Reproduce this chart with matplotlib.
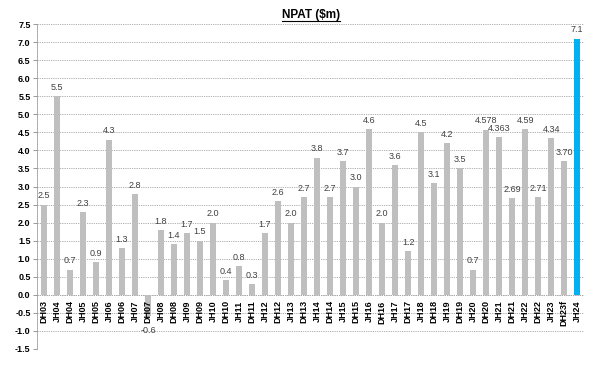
import numpy as np
import matplotlib
matplotlib.use('Agg')
import matplotlib.pyplot as plt
import matplotlib.transforms as mtrans

periods = ['DH03', 'JH04', 'DH04', 'JH05', 'DH05', 'JH06', 'DH06', 'JH07', 'DH07', 'JH08',
           'DH08', 'JH09', 'DH09', 'JH10', 'DH10', 'JH11', 'DH11', 'JH12', 'DH12', 'JH13',
           'DH13', 'JH14', 'DH14', 'JH15', 'DH15', 'JH16', 'DH16', 'JH17', 'DH17', 'JH18',
           'DH18', 'JH19', 'DH19', 'JH20', 'DH20', 'JH21', 'DH21', 'JH22', 'DH22', 'JH23',
           'DH23f', 'JH24']
npat = [2.5, 5.5, 0.7, 2.3, 0.9, 4.3, 1.3, 2.8, -0.6, 1.8,
        1.4, 1.7, 1.5, 2.0, 0.4, 0.8, 0.3, 1.7, 2.6, 2.0,
        2.7, 3.8, 2.7, 3.7, 3.0, 4.6, 2.0, 3.6, 1.2, 4.5,
        3.1, 4.2, 3.5, 0.7, 4.578, 4.363, 2.69, 4.59, 2.71, 4.34,
        3.70, 7.1]
labels = ['2.5', '5.5', '0.7', '2.3', '0.9', '4.3', '1.3', '2.8', '-0.6', '1.8',
          '1.4', '1.7', '1.5', '2.0', '0.4', '0.8', '0.3', '1.7', '2.6', '2.0',
          '2.7', '3.8', '2.7', '3.7', '3.0', '4.6', '2.0', '3.6', '1.2', '4.5',
          '3.1', '4.2', '3.5', '0.7', '4.578', '4.363', '2.69', '4.59', '2.71', '4.34',
          '3.70', '7.1']

plt.rcParams['font.family'] = ['Liberation Sans', 'DejaVu Sans']

fig = plt.figure(figsize=(5.95, 3.65), dpi=100)
ax = fig.add_axes([0.063, 0.044, 0.918, 0.890])

x = np.arange(len(periods))
colors = ['#BFBFBF'] * (len(periods) - 1) + ['#00B0F0']
ax.bar(x, npat, width=0.5, color=colors, zorder=3)

ax.set_xlim(-0.5, len(periods) - 0.5)
ax.set_ylim(-1.5, 7.5)
ax.set_yticks(np.arange(-1.5, 7.51, 0.5))
ax.set_yticklabels(['%.1f' % v for v in np.arange(-1.5, 7.51, 0.5)],
                   fontsize=6.5, fontweight='bold')
ax.tick_params(axis='y', length=3, width=0.6, color='#888888', pad=2)
ax.set_xticks([])
ax.grid(axis='y', color='#A6A6A6', linestyle=(0, (1.5, 1.2)), linewidth=0.6, zorder=0)
for s in ['top', 'right', 'bottom']:
    ax.spines[s].set_visible(False)
ax.spines['left'].set_color('#999999')
ax.spines['left'].set_linestyle((0, (1.5, 1.2)))
ax.spines['left'].set_linewidth(0.6)
ax.axhline(0, color='#A6A6A6', linewidth=0.6, linestyle=(0, (1.5, 1.2)), zorder=2)

# category labels sit just under the zero line
down = mtrans.offset_copy(ax.transData, fig=fig, x=0, y=-4, units='points')
for i, p in enumerate(periods):
    ax.text(i, 0, p, rotation=90, ha='center', va='top', fontsize=6.5,
            fontweight='bold', transform=down, zorder=4)

up = mtrans.offset_copy(ax.transData, fig=fig, x=0, y=3, units='points')
below = mtrans.offset_copy(ax.transData, fig=fig, x=0, y=-7, units='points')
for i, (v, t) in enumerate(zip(npat, labels)):
    if v >= 0:
        ax.text(i, v, t, ha='center', va='bottom', fontsize=6.5, color='#404040',
                transform=up, zorder=4)
    else:
        ax.text(i, v, t, ha='center', va='top', fontsize=6.5, color='#404040',
                transform=below, zorder=4)

title = fig.text(0.523, 0.958, 'NPAT ($m)', ha='center', va='center',
                 fontsize=8.5, fontweight='bold')
fig.canvas.draw()
bb = title.get_window_extent().transformed(fig.transFigure.inverted())
fig.add_artist(plt.Line2D([bb.x0, bb.x1], [bb.y0 + 0.002, bb.y0 + 0.002],
                          color='black', linewidth=0.8, transform=fig.transFigure))

fig.savefig('out.png', dpi=100)
